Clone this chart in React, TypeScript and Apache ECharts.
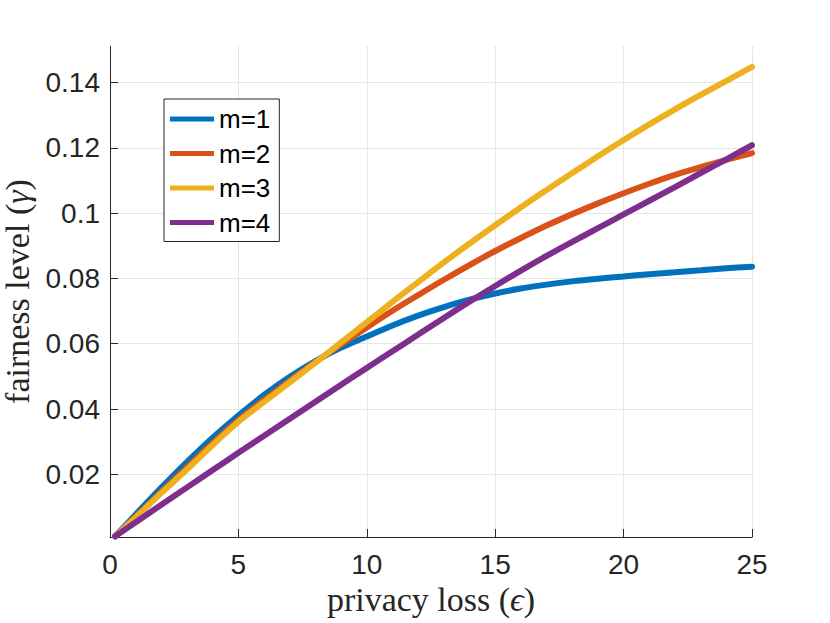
import React, { useEffect, useRef } from "react";
import * as echarts from "echarts";

// privacy loss (epsilon) sample points
const epsilon = [0.2, 1, 2, 3, 4, 5, 6, 7, 8, 9, 10, 11, 12, 13, 14, 15, 16, 17, 18, 19, 20, 21, 22, 23, 24, 25];

// fairness level (gamma) per m
const m1 = [0.001, 0.0077, 0.0159, 0.0238, 0.0312, 0.038, 0.0443, 0.0499, 0.0547, 0.0588, 0.0622, 0.0656, 0.0686, 0.0712, 0.0735, 0.0754, 0.0769, 0.0781, 0.0791, 0.0799, 0.0806, 0.0813, 0.0819, 0.0825, 0.0831, 0.0836];
const m2 = [0.001, 0.007, 0.0147, 0.0222, 0.0296, 0.0366, 0.0428, 0.0487, 0.0544, 0.0598, 0.065, 0.0701, 0.0749, 0.0796, 0.0841, 0.0884, 0.0924, 0.0962, 0.0997, 0.103, 0.1061, 0.109, 0.1117, 0.1141, 0.1163, 0.1184];
const m3 = [0.001, 0.0068, 0.0143, 0.0215, 0.029, 0.0361, 0.0422, 0.0482, 0.0542, 0.0604, 0.0666, 0.0728, 0.0789, 0.0849, 0.0907, 0.0963, 0.1018, 0.1071, 0.1123, 0.1174, 0.1224, 0.1272, 0.1318, 0.1362, 0.1405, 0.1448];
const m4 = [0.001, 0.0053, 0.0107, 0.016, 0.0213, 0.0266, 0.0318, 0.037, 0.0422, 0.0474, 0.0526, 0.0577, 0.0628, 0.0679, 0.0729, 0.0777, 0.0824, 0.0869, 0.0912, 0.0954, 0.0996, 0.1038, 0.108, 0.1123, 0.1165, 0.1208];

const seriesNames = ["m=1", "m=2", "m=3", "m=4"];
const seriesValues = [m1, m2, m3, m4];
const seriesColors = ["#0072BD", "#D95319", "#EDB120", "#7E2F8E"];

const yTicks = [0.02, 0.04, 0.06, 0.08, 0.1, 0.12, 0.14];
const xMin = 0;
const xMax = 25;
const xStep = 5;
const yMin = 0.0008;
const yMax = 0.1512;

const AXIS_COLOR = "#262626";
const GRID_COLOR = "#e6e6e6";
const SANS = "'Liberation Sans', Arial, Helvetica, sans-serif";
const SERIF = "'Liberation Serif', 'DejaVu Serif', serif";

export default function App() {
  const ref = useRef<HTMLDivElement>(null);

  useEffect(() => {
    if (!ref.current) return;
    const chart = echarts.init(ref.current, undefined, { renderer: "svg" });

    const series = seriesNames.map((name, i) => ({
      name,
      type: "line",
      data: epsilon.map((x, j) => [x, seriesValues[i][j]]),
      showSymbol: false,
      smooth: 0.3,
      lineStyle: { width: 6, color: seriesColors[i], cap: "round" },
      itemStyle: { color: seriesColors[i] },
      emphasis: { disabled: true },
    }));

    chart.setOption({
      animation: false,
      backgroundColor: "#ffffff",
      grid: {
        left: 110,
        top: 46,
        width: 642,
        height: 491,
        containLabel: false,
        outerBoundsMode: "none",
      },
      legend: {
        orient: "vertical",
        left: 164,
        top: 99,
        padding: [7, 9, 6, 6],
        itemGap: 8.5,
        itemWidth: 44,
        itemHeight: 5,
        icon: "rect",
        backgroundColor: "#ffffff",
        borderColor: AXIS_COLOR,
        borderWidth: 1,
        borderRadius: 0,
        textStyle: {
          fontFamily: SANS,
          fontSize: 26,
          lineHeight: 24,
          color: "#000000",
        },
        data: seriesNames,
      },
      xAxis: {
        type: "value",
        min: xMin,
        max: xMax,
        interval: xStep,
        name: "privacy loss ({e|ϵ})",
        nameLocation: "middle",
        nameGap: 45,
        nameTextStyle: {
          fontFamily: SERIF,
          fontSize: 34,
          color: AXIS_COLOR,
          rich: {
            e: { fontFamily: SERIF, fontSize: 34, fontStyle: "italic", color: AXIS_COLOR },
          },
        },
        axisLine: { show: true, lineStyle: { color: AXIS_COLOR, width: 1 } },
        axisTick: { show: true, inside: true, length: 8, lineStyle: { color: AXIS_COLOR } },
        axisLabel: {
          fontFamily: SANS,
          fontSize: 28,
          color: AXIS_COLOR,
          margin: 13,
        },
        splitLine: { show: true, lineStyle: { color: GRID_COLOR, width: 1 } },
      },
      yAxis: {
        type: "value",
        min: yMin,
        max: yMax,
        splitNumber: 7,
        name: "fairness level ({g|γ})",
        nameLocation: "middle",
        nameGap: 74,
        nameRotate: 90,
        nameTextStyle: {
          fontFamily: SERIF,
          fontSize: 34,
          color: AXIS_COLOR,
          rich: {
            g: { fontFamily: SERIF, fontSize: 34, fontStyle: "italic", color: AXIS_COLOR },
          },
        },
        axisLine: { show: true, lineStyle: { color: AXIS_COLOR, width: 1 } },
        axisTick: {
          show: true,
          inside: true,
          length: 8,
          customValues: yTicks,
          lineStyle: { color: AXIS_COLOR },
        },
        axisLabel: {
          fontFamily: SANS,
          fontSize: 28,
          color: AXIS_COLOR,
          margin: 10,
          customValues: yTicks,
          formatter: (v: number) => String(+v.toFixed(4)),
        },
        splitLine: {
          show: true,
          lineStyle: { color: GRID_COLOR, width: 1 },
        },
      },
      series,
    });

    return () => {
      chart.dispose();
    };
  }, []);

  return (
    <div
      ref={ref}
      style={{ position: "absolute", left: 0, top: 0, width: 830, height: 623 }}
    />
  );
}
